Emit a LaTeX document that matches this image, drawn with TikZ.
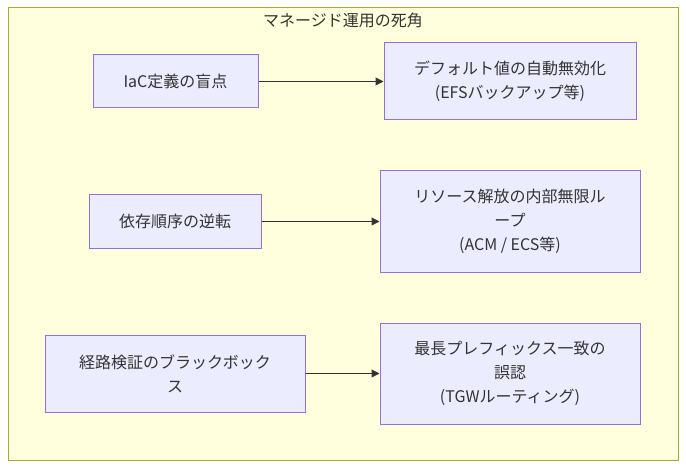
\documentclass[tikz,border=0pt]{standalone}
\usepackage{fontspec}
\setmainfont{Noto Sans CJK JP}
\usetikzlibrary{arrows.meta}
\definecolor{clfill}{HTML}{FFFFDE}
\definecolor{clstroke}{HTML}{AAAA33}
\definecolor{nfill}{HTML}{ECECFF}
\definecolor{nstroke}{HTML}{9370DB}
\definecolor{txt}{HTML}{333333}
\tikzset{
  box/.style={draw=nstroke, fill=nfill, line width=1pt, inner sep=0pt, align=center,
    text=txt, font=\fontsize{16}{24}\selectfont},
  link/.style={draw=txt, line width=1pt, -{Triangle[length=8pt,width=8pt]}}
}
\begin{document}
\begin{tikzpicture}[x=1pt,y=-1pt]
\useasboundingbox (0,0) rectangle (686,468);
\node[draw=clstroke, fill=clfill, line width=1pt, minimum width=670pt, minimum height=452pt, inner sep=0pt] (cl) at (343,234) {};
\node[text=txt, font=\fontsize{16}{20}\selectfont, anchor=center] (title) at (343,20) {マネージド運用の死角};
\node[box, minimum width=165pt, minimum height=53pt] (a) at (175.5,81.5) {IaC定義の盲点};
\node[box, minimum width=252pt, minimum height=77pt] (b) at (510,81.5) {デフォルト値の自動無効化\\(EFSバックアップ等)};
\node[box, minimum width=172pt, minimum height=53pt] (c) at (175,221.5) {依存順序の逆転};
\node[box, minimum width=260pt, minimum height=101pt] (d) at (510,221.5) {リソース解放の内部無限ル\\ープ\\(ACM / ECS等)};
\node[box, minimum width=260pt, minimum height=77pt] (e) at (175,373.5) {経路検証のブラックボック\\ス};
\node[box, minimum width=260pt, minimum height=101pt] (f) at (510,373.5) {最長プレフィックス一致の\\誤認\\(TGWルーティング)};
\draw[link] (a.east) -- (b.west);
\draw[link] (c.east) -- (d.west);
\draw[link] (e.east) -- (f.west);
\end{tikzpicture}
\end{document}
